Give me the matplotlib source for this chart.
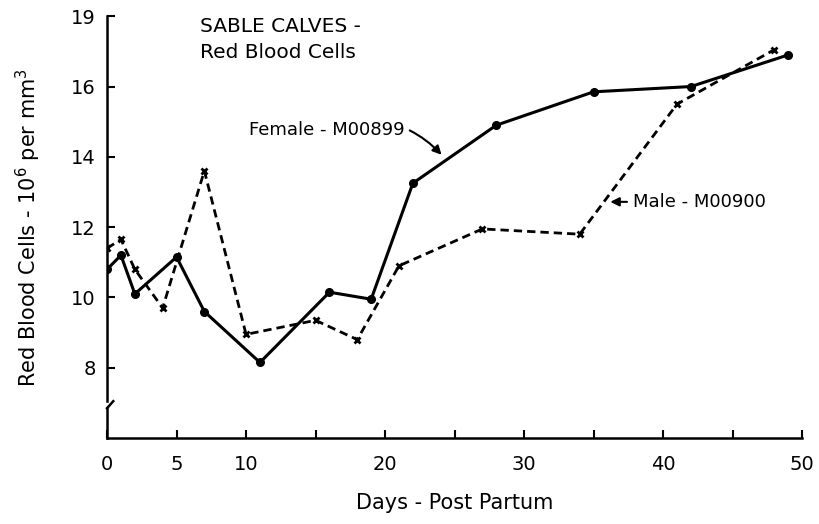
import numpy as np
import matplotlib.pyplot as plt

# Female M00899 (solid, dots)
female_days = [0, 1, 2, 5, 7, 11, 16, 19, 22, 28, 35, 42, 49]
female_rbc = [10.8, 11.2, 10.1, 11.15, 9.6, 8.15, 10.15, 9.95, 13.25, 14.9, 15.85, 16.0, 16.9]

# Male M00900 (dashed, x)
male_days = [0, 1, 2, 4, 7, 10, 15, 18, 21, 27, 34, 41, 48]
male_rbc = [11.4, 11.65, 10.8, 9.7, 13.6, 8.95, 9.35, 8.8, 10.9, 11.95, 11.8, 15.5, 17.05]

xticks = [0, 5, 10, 15, 20, 25, 30, 35, 40, 45, 50]
xlabels = ['0', '5', '10', '', '20', '', '30', '', '40', '', '50']
yticks = [8, 10, 12, 14, 16, 18]
ylabels = ['8', '10', '12', '14', '16', '19']

plt.rcParams['font.family'] = ['DejaVu Sans']

fig = plt.figure(figsize=(8.19, 5.24), dpi=100)
ax = fig.add_axes([0.1307, 0.164, 0.8487, 0.805])

ax.plot(female_days, female_rbc, color='black', lw=2.2, marker='o', ms=5.5)
ax.plot(male_days, male_rbc, color='black', lw=2.0, ls=(0, (3, 1.8)),
        marker='x', ms=5, mew=2)

ax.set_xlim(0, 50)
ax.set_ylim(6, 18)
ax.set_xticks(xticks)
ax.set_xticklabels(xlabels, fontsize=14)
ax.set_yticks(yticks)
ax.set_yticklabels(ylabels, fontsize=14)
ax.tick_params(direction='in', length=6, width=1.5, pad=12)
ax.tick_params(axis='y', pad=8)

for s in ['top', 'right']:
    ax.spines[s].set_visible(False)
ax.spines['bottom'].set_linewidth(1.8)
ax.spines['left'].set_linewidth(1.8)
ax.spines['left'].set_bounds(7.05, 18)

# axis break
ax.plot([0, 0], [6, 6.85], color='black', lw=1.8, clip_on=False)
ax.plot([0, 0.45], [6.85, 7.05], color='black', lw=1.8, clip_on=False)

ax.set_xlabel('Days - Post Partum', fontsize=15, labelpad=14)
ax.set_ylabel('Red Blood Cells - 10$^6$ per mm$^3$', fontsize=15, labelpad=20)

ax.text(0.134, 0.975, 'SABLE CALVES -', transform=ax.transAxes, fontsize=14.5,
        ha='left', va='center')
ax.text(0.134, 0.913, 'Red Blood Cells', transform=ax.transAxes, fontsize=14.5,
        ha='left', va='center')

ax.annotate('Female - M00899', xy=(24.2, 14.0), xytext=(10.2, 14.75),
            fontsize=13, ha='left', va='center',
            arrowprops=dict(arrowstyle='-|>', color='black', lw=1.5,
                            connectionstyle='arc3,rad=-0.35'))
ax.annotate('Male - M00900', xy=(36.0, 12.72), xytext=(37.8, 12.72),
            fontsize=13, ha='left', va='center',
            arrowprops=dict(arrowstyle='-|>', color='black', lw=1.5))

fig.savefig('out.png', dpi=100)
